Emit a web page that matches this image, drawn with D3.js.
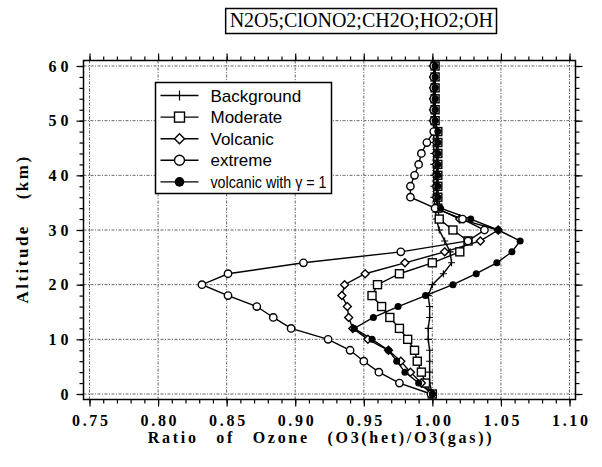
<!DOCTYPE html>
<html><head><meta charset="utf-8">
<script src="https://cdn.jsdelivr.net/npm/d3@7"></script>
<style>body{margin:0;background:#fff}svg{display:block}</style>
</head><body>
<svg id="c" width="602" height="467"></svg>
<script>
// ---- data ----
const altitudes = [0,2,4,6,8,10,12,14,16,18,20,22,24,26,28,30,32,34,36,38,40,42,44,46,48,50,52,54,56,58,60];
const background = [1.000,0.998,0.998,0.998,0.998,0.997,0.997,0.998,0.998,0.997,1.000,1.008,1.014,1.013,1.009,1.005,1.003,1.002,1.001,1.001,1.001,1.001,1.001,1.001,1.001,1.001,1.001,1.001,1.001,1.001,1.001];
const moderate   = [1.000,0.995,0.992,0.989,0.987,0.982,0.976,0.969,0.963,0.956,0.960,0.976,1.000,1.020,1.026,1.015,1.005,1.004,1.004,1.004,1.004,1.004,1.004,1.004,1.004,1.002,1.002,1.002,1.002,1.002,1.002];
const volcanic   = [1.000,0.992,0.984,0.977,0.968,0.953,0.942,0.939,0.938,0.934,0.936,0.951,0.980,1.009,1.035,1.048,1.020,1.003,1.003,1.003,1.003,1.003,1.003,1.003,1.003,1.001,1.001,1.001,1.001,1.001,1.001];
const extreme    = [0.999,0.976,0.961,0.950,0.940,0.924,0.897,0.884,0.872,0.851,0.832,0.851,0.906,0.977,1.026,1.038,1.022,1.002,0.984,0.984,0.987,0.990,0.992,0.996,1.001,1.001,1.001,1.001,1.001,1.001,1.001];
const volcanicG1 = [1.000,0.990,0.980,0.974,0.968,0.956,0.943,0.957,0.975,0.995,1.015,1.032,1.047,1.058,1.064,1.048,1.028,1.006,1.004,1.004,1.004,1.004,1.004,1.004,1.004,1.002,1.002,1.002,1.002,1.002,1.002];
const seriesNames = ["Background","Moderate","Volcanic","extreme","volcanic with γ = 1"];
const seriesMarkers = ["plus","square","diamond","circle","dot"];
const xTicks = [0.75,0.80,0.85,0.90,0.95,1.00,1.05,1.10];
const yTicks = [0,10,20,30,40,50,60];
const titleText = "N2O5;ClONO2;CH2O;HO2;OH";
const xTitle = "Ratio of Ozone (O3(het)/O3(gas))";
const yTitle = "Altitude (km)";

const series = [background, moderate, volcanic, extreme, volcanicG1].map((vals,i)=>({
  name: seriesNames[i], marker: seriesMarkers[i],
  pts: vals.map((v,j)=>({v, a: altitudes[j]}))
}));

// ---- layout ----
const svg = d3.select("#c");
const F = {l:83.5, r:575.5, t:60.5, b:399.5};
const x = d3.scaleLinear().domain([0.75,1.10]).range([89.5,569.5]);
const y = d3.scaleLinear().domain([0,60]).range([394,66]);
const serif = "'Liberation Serif','Times New Roman',serif";
const sans = "'Liberation Sans',Arial,Helvetica,sans-serif";

// grid
const grid = svg.append("g").attr("stroke","#000").attr("stroke-width",0.8)
  .attr("stroke-dasharray","3,1.5,1,1.5").attr("opacity",0.75);
grid.selectAll("line.v").data(xTicks).join("line")
  .attr("x1",d=>x(d)).attr("x2",d=>x(d)).attr("y1",F.t).attr("y2",F.b);
grid.selectAll("line.h").data(yTicks).join("line")
  .attr("x1",F.l).attr("x2",F.r).attr("y1",d=>y(d)).attr("y2",d=>y(d));

// axes ticks
const minorX = d3.range(75,111).map(i=>i/100);
const minorY = d3.range(0,61,2);
function ax(gen, tr){ const g = svg.append("g").attr("transform",tr).call(gen); g.select(".domain").remove(); g.selectAll("line").attr("stroke","#000").attr("stroke-width",1.2); return g; }
ax(d3.axisBottom(x).tickValues(minorX).tickSize(4).tickFormat(""), `translate(0,${F.b})`);
ax(d3.axisTop(x).tickValues(minorX).tickSize(4).tickFormat(""), `translate(0,${F.t})`);
ax(d3.axisLeft(y).tickValues(minorY).tickSize(4).tickFormat(""), `translate(${F.l},0)`);
ax(d3.axisRight(y).tickValues(minorY).tickSize(4).tickFormat(""), `translate(${F.r},0)`);
const bx = ax(d3.axisBottom(x).tickValues(xTicks).tickSize(7).tickPadding(8).tickFormat(d3.format(".2f")), `translate(0,${F.b})`);
ax(d3.axisTop(x).tickValues(xTicks).tickSize(7).tickFormat(""), `translate(0,${F.t})`);
const ly = ax(d3.axisLeft(y).tickValues(yTicks).tickSize(7).tickPadding(8).tickFormat(d3.format("d")), `translate(${F.l},0)`);
ax(d3.axisRight(y).tickValues(yTicks).tickSize(7).tickFormat(""), `translate(${F.r},0)`);
bx.selectAll("text").attr("font-family",serif).attr("font-weight","bold").attr("font-size",16)
  .attr("letter-spacing","2.7px").attr("dx","1.35").attr("fill","#000");
ly.selectAll("text").attr("font-family",serif).attr("font-weight","bold").attr("font-size",16)
  .attr("letter-spacing","4px").attr("dx","4").attr("fill","#000");

// frame
svg.append("rect").attr("x",F.l).attr("y",F.t).attr("width",F.r-F.l).attr("height",F.b-F.t)
  .attr("fill","none").attr("stroke","#000").attr("stroke-width",1.5);

// markers
function drawMarker(g, type, cx, cy){
  if(type==="plus"){
    g.append("path").attr("d",`M${cx-3.5},${cy}H${cx+3.5}M${cx},${cy-3.5}V${cy+3.5}`).attr("stroke","#000").attr("stroke-width",1.1);
  } else if(type==="square"){
    g.append("rect").attr("x",cx-4).attr("y",cy-4).attr("width",8).attr("height",8).attr("fill","#fff").attr("stroke","#000").attr("stroke-width",1.4);
  } else if(type==="diamond"){
    g.append("path").attr("d",`M${cx},${cy-4}L${cx+4},${cy}L${cx},${cy+4}L${cx-4},${cy}Z`).attr("fill","#fff").attr("stroke","#000").attr("stroke-width",1.4);
  } else if(type==="circle"){
    g.append("circle").attr("cx",cx).attr("cy",cy).attr("r",3.7).attr("fill","#fff").attr("stroke","#000").attr("stroke-width",1.4);
  } else {
    g.append("circle").attr("cx",cx).attr("cy",cy).attr("r",3.5).attr("fill","#000");
  }
}
const line = d3.line().x(d=>x(d.v)).y(d=>y(d.a));
const plot = svg.append("g");
series.forEach(s=>{
  plot.append("path").datum(s.pts).attr("d",line).attr("fill","none").attr("stroke","#000").attr("stroke-width",1.4);
});
series.forEach(s=>{
  const g = plot.append("g");
  s.pts.forEach(p=>drawMarker(g, s.marker, x(p.v), y(p.a)));
});

// legend
const L = {x:155.5, y:82.5, w:176, h:111};
const lg = svg.append("g");
lg.append("rect").attr("x",L.x).attr("y",L.y).attr("width",L.w).attr("height",L.h)
  .attr("fill","#fff").attr("stroke","#000").attr("stroke-width",1.5);
series.forEach((s,i)=>{
  const cy = L.y + 13 + i*21.6;
  lg.append("line").attr("x1",L.x+5).attr("x2",L.x+43).attr("y1",cy).attr("y2",cy).attr("stroke","#000").attr("stroke-width",1.4);
  const gm = lg.append("g");
  if(s.marker==="dot") gm.append("circle").attr("cx",L.x+24).attr("cy",cy).attr("r",4.8).attr("fill","#000");
  else if(s.marker==="circle") gm.append("circle").attr("cx",L.x+24).attr("cy",cy).attr("r",5).attr("fill","#fff").attr("stroke","#000").attr("stroke-width",1.4);
  else if(s.marker==="square") gm.append("rect").attr("x",L.x+19).attr("y",cy-5).attr("width",10).attr("height",10).attr("fill","#fff").attr("stroke","#000").attr("stroke-width",1.4);
  else if(s.marker==="diamond") gm.append("path").attr("d",`M${L.x+24},${cy-5}l5,5l-5,5l-5,-5Z`).attr("fill","#fff").attr("stroke","#000").attr("stroke-width",1.4);
  else gm.append("path").attr("d",`M${L.x+24},${cy-5}V${cy+5}`).attr("stroke","#000").attr("stroke-width",1.2);
  const t = lg.append("text").attr("x",L.x+55).attr("y",cy+6).attr("font-family",sans).attr("font-size",17).attr("fill","#000").text(s.name);
  if(i===4) t.attr("textLength",116).attr("lengthAdjust","spacingAndGlyphs");
});

// title box
const tb = svg.append("g");
const tt = tb.append("text").attr("x",493).attr("y",27).attr("text-anchor","end")
  .attr("font-family",serif).attr("font-size",20).attr("fill","#000").text(titleText);
const bb = tt.node().getBBox();
tb.insert("rect","text").attr("x",bb.x-4).attr("y",8.5).attr("width",bb.width+7.5).attr("height",25)
  .attr("fill","#fff").attr("stroke","#000").attr("stroke-width",1.5);

// axis titles
svg.append("text").attr("x",321).attr("y",443).attr("text-anchor","middle")
  .attr("font-family",serif).attr("font-weight","bold").attr("font-size",16)
  .attr("letter-spacing","2.7px").attr("word-spacing","11px").attr("fill","#000").text(xTitle);
svg.append("text").attr("transform","translate(28,229) rotate(-90)").attr("text-anchor","middle")
  .attr("font-family",serif).attr("font-weight","bold").attr("font-size",17)
  .attr("letter-spacing","2.5px").attr("word-spacing","18px").attr("fill","#000").text(yTitle);
</script>
</body></html>
